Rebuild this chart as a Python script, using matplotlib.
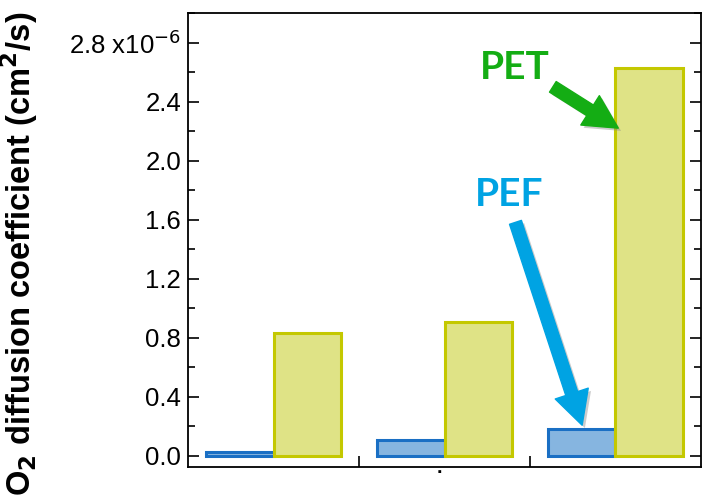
import matplotlib
matplotlib.use("Agg")
import matplotlib.pyplot as plt
import matplotlib.patheffects as pe
from matplotlib.patches import FancyArrowPatch
from matplotlib.ticker import MultipleLocator, FixedLocator
import numpy as np

# values in 1e-6 cm^2/s
groups = [0.5, 1.5, 2.5]
pef = [0.025, 0.105, 0.18]
pet = [0.835, 0.905, 2.63]
yticks = [0.0, 0.4, 0.8, 1.2, 1.6, 2.0, 2.4, 2.8]
ytick_labels = ["0.0", "0.4", "0.8", "1.2", "1.6", "2.0", "2.4", "2.8 x10$^{-6}$"]

plt.rcParams["font.family"] = ["Liberation Sans", "DejaVu Sans"]

fig = plt.figure(figsize=(7.05, 5.0), dpi=100)
ax = fig.add_axes([0.2667, 0.066, 0.7276, 0.908])

w = 0.395
x = np.array(groups)
ax.bar(x - w / 2, pef, width=w, color="#86b5e0", edgecolor="#1a6fc4", linewidth=2.2, zorder=2)
ax.bar(x + w / 2, pet, width=w, color="#dfe386", edgecolor="#c4c800", linewidth=2.2, zorder=2)

ax.set_xlim(0, 3)
ax.set_ylim(-0.075, 3.0)
ax.set_yticks(yticks)
ax.set_yticklabels(ytick_labels)
ax.yaxis.set_minor_locator(MultipleLocator(0.2))
ax.xaxis.set_major_locator(FixedLocator([1, 2]))
ax.set_xticklabels([])
ax.tick_params(axis="y", which="both", direction="in", left=True, right=True, labelsize=18.5, width=1.2)
ax.tick_params(axis="y", which="major", length=8, pad=5)
ax.tick_params(axis="y", which="minor", length=5)
ax.tick_params(axis="x", direction="in", length=8, width=1.2, top=False)
for s in ax.spines.values():
    s.set_linewidth(1.3)

# label nearly fills the figure height, as in the original
ax.set_ylabel("O$_\\mathbf{2}$ diffusion coefficient (cm$^\\mathbf{2}$/s)",
              fontsize=23.5, fontweight="bold")
ax.yaxis.set_label_coords(-0.288, 0.47)

shadow = [pe.SimplePatchShadow(offset=(2, -2), shadow_rgbFace="0.5", alpha=0.4), pe.Normal()]
ax.text(1.91, 2.63, "PET", color="#14ad14", fontsize=28, fontweight="bold",
        family=["Lato", "DejaVu Sans"], ha="center", va="center")
arr1 = FancyArrowPatch((2.12, 2.51), (2.53, 2.21),
                       arrowstyle="simple,head_width=2.5,head_length=2.4,tail_width=0.9",
                       mutation_scale=10, color="#14ad14", zorder=5)
arr1.set_path_effects(shadow)
ax.add_patch(arr1)

ax.text(1.88, 1.77, "PEF", color="#00a3e3", fontsize=28, fontweight="bold",
        family=["Lato", "DejaVu Sans"], ha="center", va="center")
arr2 = FancyArrowPatch((1.91, 1.6), (2.31, 0.19),
                       arrowstyle="simple,head_width=2.5,head_length=2.4,tail_width=0.9",
                       mutation_scale=10, color="#00a3e3", zorder=5)
arr2.set_path_effects(shadow)
ax.add_patch(arr2)

fig.text(439 / 705, 1 - 477 / 500, ".", fontsize=14, fontweight="bold", ha="center", va="bottom")

fig.savefig("out.png", dpi=100)
